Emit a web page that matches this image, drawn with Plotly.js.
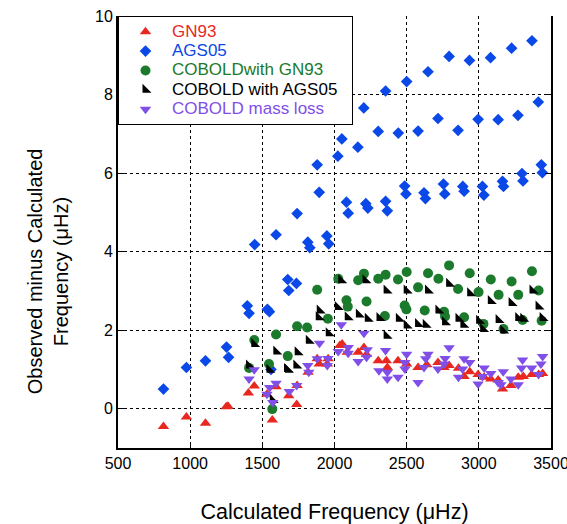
<!DOCTYPE html>
<html><head><meta charset="utf-8">
<script src="https://cdn.plot.ly/plotly-3.0.1.min.js"></script>
<style>html,body{margin:0;padding:0;background:#fff}</style>
</head><body><div id="chart" style="width:567px;height:524px"></div>
<script>
// GN93
const gn93X = [815,974,1106,1250,1262,1403,1444,1532,1569,1595,1683,1738,1741,1817,1880,1894,1950,1956,2037,2053,2088,2164,2204,2222,2303,2359,2366,2440,2500,2579,2639,2717,2759,2794,2859,2898,2937,2995,3037,3083,3134,3164,3222,3273,3308,3366,3414,3442];
const gn93Y = [-0.45,-0.21,-0.37,0.05,0.06,0.40,0.58,0.37,-0.29,0.56,0.33,0.11,0.59,0.93,1.27,1.14,1.14,1.27,1.61,1.65,1.44,1.44,1.56,1.38,1.22,1.22,1.05,1.22,1.14,1.05,1.12,1.18,1.05,1.10,1.03,0.82,0.94,0.87,0.80,0.76,0.73,0.50,0.59,0.80,0.82,0.87,0.87,0.90];
// AGS05
const agsX = [815,974,1106,1252,1266,1396,1408,1447,1535,1549,1560,1595,1676,1683,1736,1741,1815,1829,1880,1894,1947,1960,2023,2051,2083,2095,2162,2203,2217,2231,2303,2354,2354,2366,2442,2486,2495,2500,2579,2620,2630,2648,2717,2755,2764,2794,2856,2889,2898,2935,2995,3025,3035,3081,3134,3164,3171,3227,3271,3299,3306,3368,3412,3433,3440];
const agsY = [0.50,1.05,1.22,1.57,1.31,2.62,2.43,4.18,2.53,2.47,1.00,4.43,3.29,3.01,3.19,4.97,4.24,4.10,6.21,5.51,4.40,4.20,6.43,6.87,5.26,4.98,6.66,7.66,5.22,5.11,7.06,8.09,5.28,5.04,7.02,5.67,5.47,8.33,7.07,5.50,5.35,8.58,7.39,5.72,5.47,8.97,7.09,5.66,5.54,8.87,7.37,5.66,5.44,8.94,7.36,5.79,5.66,9.18,7.47,5.99,5.80,9.37,7.81,6.21,6.01];
// COBOLD with GN93
const cgX = [1408,1444,1546,1569,1595,1676,1741,1810,1880,1954,2026,2083,2092,2164,2204,2222,2303,2349,2354,2440,2486,2498,2500,2579,2625,2648,2720,2759,2766,2794,2856,2898,2937,2998,3032,3083,3137,3171,3227,3273,3303,3368,3414,3435];
const cgY = [1.04,1.75,1.14,-0.01,1.89,1.34,2.10,2.07,3.03,2.29,3.31,2.76,2.60,3.27,3.44,2.73,3.31,2.36,3.41,3.29,2.63,2.53,3.48,3.09,2.50,3.45,3.31,2.47,2.35,3.65,3.05,2.33,3.45,2.97,2.16,3.29,2.90,2.03,3.24,2.90,2.26,3.50,3.01,2.24];
// COBOLD with AGS05
const caX = [1408,1444,1549,1572,1597,1671,1678,1736,1745,1822,1891,1898,1960,2023,2047,2092,2169,2215,2231,2312,2361,2361,2446,2500,2500,2579,2632,2648,2720,2766,2794,2859,2893,2940,3002,3030,3083,3137,3169,3227,3273,3308,3372,3414,3442];
const caY = [1.10,1.65,0.99,0.22,1.46,1.01,0.99,1.10,1.44,1.73,2.33,2.50,1.92,2.59,3.27,2.33,2.40,3.27,2.29,2.31,3.01,1.86,2.29,3.01,2.12,2.16,2.14,3.01,2.50,2.20,3.18,2.29,2.14,2.94,2.24,2.03,2.74,2.26,1.99,2.69,2.31,2.29,3.01,2.60,2.31];
// COBOLD mass loss
const mlX = [1408,1444,1532,1551,1572,1595,1687,1738,1815,1822,1880,1896,1950,1954,2026,2047,2095,2095,2164,2204,2222,2227,2308,2354,2366,2366,2440,2488,2488,2500,2579,2620,2632,2648,2717,2759,2766,2794,2859,2887,2898,2937,2995,3025,3037,3083,3134,3153,3169,3222,3273,3296,3303,3366,3414,3430,3442];
const mlY = [0.76,0.99,0.37,0.54,0.16,0.65,0.44,0.59,1.10,0.93,1.27,1.67,1.10,1.28,1.46,2.14,1.56,1.41,1.20,1.92,1.31,1.50,0.97,1.48,0.93,0.76,0.80,1.18,1.01,1.39,0.67,1.05,1.27,1.39,1.01,1.14,1.28,1.55,0.80,1.01,1.27,1.18,0.63,0.82,1.04,0.90,0.67,0.61,0.94,0.76,0.61,1.04,1.24,1.04,0.87,1.14,1.33];

const names = ['GN93','AGS05','COBOLDwith GN93','COBOLD with AGS05','COBOLD mass loss'];
const colors = ['#e8281e','#0a48e8','#1b7a2b','#000000','#7f4fe8'];
const symbols = ['triangle-up','diamond','circle','triangle-sw','triangle-down'];
const sizes = [10,9,10,10,10];
const xs = [gn93X, agsX, cgX, caX, mlX];
const ys = [gn93Y, agsY, cgY, caY, mlY];

const traces = names.map((n,i)=>({
  type:'scatter', mode:'markers', x:xs[i], y:ys[i],
  name:'<span style="color:'+colors[i]+';font-size:17px">'+n+'\u00A0\u00A0</span>',
  marker:{symbol:symbols[i], color:colors[i], size:sizes[i], line:{width:0}}
}));

const font = 'Arial, "Liberation Sans", sans-serif';
const layout = {
  width:567, height:524,
  margin:{l:118, r:16, t:16, b:76},
  paper_bgcolor:'#fff', plot_bgcolor:'#fff',
  font:{family:font, color:'#000', size:16},
  showlegend:true,
  legend:{x:0, y:1, xanchor:'left', yanchor:'top', bgcolor:'#fff', bordercolor:'#000', borderwidth:1,
    font:{family:font, size:12.6}, itemwidth:43, tracegroupgap:0},
  xaxis:{range:[500,3500], tickvals:[500,1000,1500,2000,2500,3000,3500],
    showgrid:true, gridcolor:'#000', griddash:'dot', gridwidth:1,
    showline:true, linecolor:'#000', linewidth:2, mirror:false,
    ticks:'inside', ticklen:6, tickcolor:'#000', zeroline:false,
    tickfont:{size:16}, ticklabeloverflow:'allow',
    title:{text:'Calculated Frequency (μHz)', font:{size:21.5}, standoff:33}},
  yaxis:{range:[-1,10], tickvals:[0,2,4,6,8,10],
    showgrid:true, gridcolor:'#000', griddash:'dot', gridwidth:1,
    showline:true, linecolor:'#000', linewidth:2, mirror:'ticks',
    ticks:'inside', ticklen:6, tickcolor:'#000', zeroline:false,
    tickfont:{size:16}},
  annotations:[{
    text:'Observed minus Calculated<br>Frequency (μHz)', textangle:-90,
    xref:'paper', yref:'paper', x:-0.163, y:0.41, xanchor:'center', yanchor:'middle',
    showarrow:false, font:{family:font, size:20, color:'#000'}
  }]
};
Plotly.newPlot('chart', traces, layout, {displayModeBar:false, staticPlot:true});
</script></body></html>
